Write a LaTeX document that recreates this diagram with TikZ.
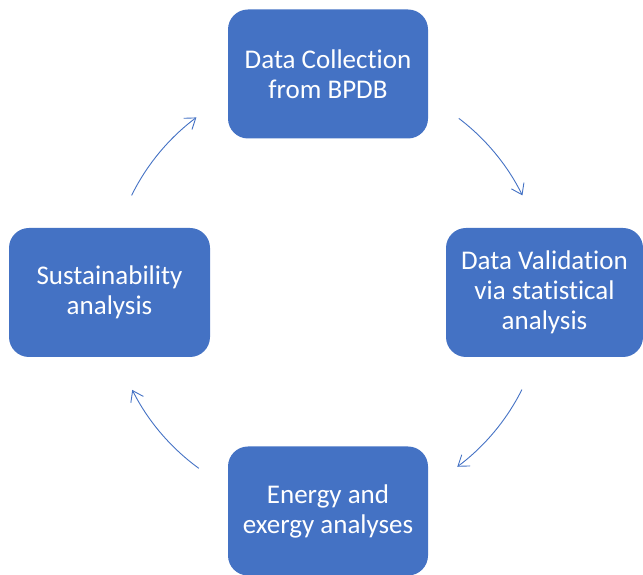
\documentclass[tikz,border=0pt]{standalone}
\usepackage{fontspec}
\setmainfont{Carlito}[Ligatures=NoCommon]
\usetikzlibrary{arrows.meta}
\definecolor{boxblue}{HTML}{4472C4}
\tikzset{
  stepbox/.style={fill=boxblue, draw=none, rounded corners=20pt, minimum height=129pt,
    minimum width=200pt, inner sep=0pt, text=white, align=center,
    font=\fontsize{27}{30}\selectfont},
  cyclearrow/.style={draw=boxblue, line width=0.9pt, -{Straight Barb[length=10pt,width=14pt]}}
}
\begin{document}
\begin{tikzpicture}[x=1pt,y=1pt]
\useasboundingbox (0,0) rectangle (643,575);
\clip (0,0) rectangle (643,575);
\node[stepbox] (collect) at (328,501) {Data Collection\\from BPDB};
\node[stepbox, minimum width=197pt] (valid) at (544.5,282.5) {Data Validation\\via statistical\\analysis};
\node[stepbox] (energy) at (328,64) {Energy and\\exergy analyses};
\node[stepbox, minimum width=201pt] (sustain) at (109.5,282.5) {Sustainability\\analysis};
\coordinate (c) at (327,283);
\draw[cyclearrow] ([shift={(52.8:218pt)}]c) arc[start angle=52.8, end angle=26.3, radius=218pt];
\draw[cyclearrow] ([shift={(-26.6:218pt)}]c) arc[start angle=-26.6, end angle=-53.3, radius=218pt];
\draw[cyclearrow] ([shift={(-126:218pt)}]c) arc[start angle=-126, end angle=-153.3, radius=218pt];
\draw[cyclearrow] ([shift={(153.7:218pt)}]c) arc[start angle=153.7, end angle=126.8, radius=218pt];
\end{tikzpicture}
\end{document}
